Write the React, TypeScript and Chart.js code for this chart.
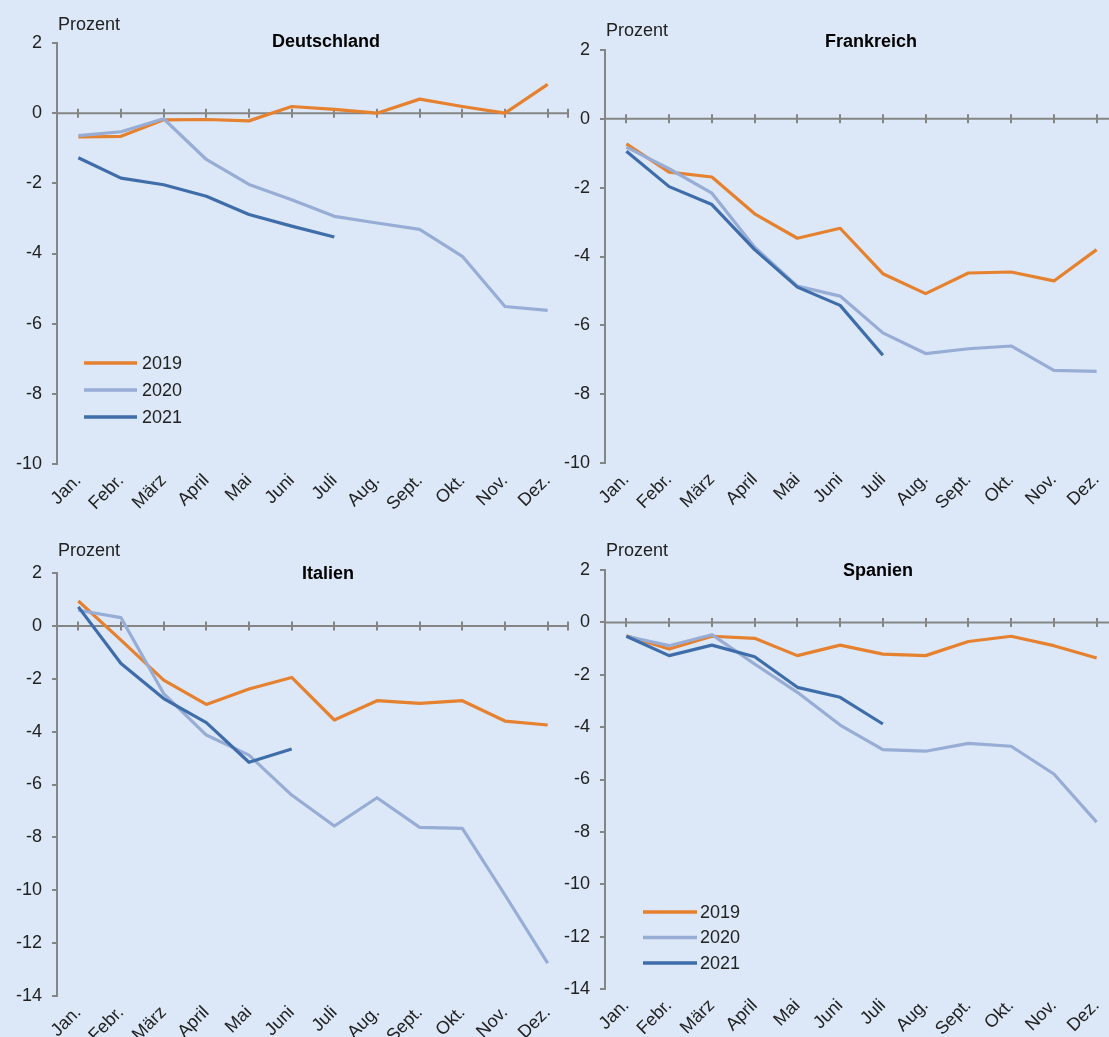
import React, { useEffect, useRef } from 'react';
import { Chart, registerables } from 'chart.js';

Chart.register(...registerables);

// ---------- data ----------
const months = ['Jan.', 'Febr.', 'März', 'April', 'Mai', 'Juni', 'Juli', 'Aug.', 'Sept.', 'Okt.', 'Nov.', 'Dez.'];
const seriesLabels = ['2019', '2020', '2021'];
const seriesColors = ['#E5812F', '#97ADD6', '#3E6DA9'];
const unitLabel = 'Prozent';

const deutschland2019 = [-0.68, -0.66, -0.19, -0.18, -0.22, 0.19, 0.11, 0.0, 0.4, 0.19, 0.0, 0.82];
const deutschland2020 = [-0.64, -0.53, -0.16, -1.32, -2.03, -2.47, -2.94, -3.13, -3.31, -4.08, -5.51, -5.62];
const deutschland2021 = [-1.27, -1.85, -2.04, -2.37, -2.89, -3.22, -3.53];

const frankreich2019 = [-0.73, -1.55, -1.69, -2.76, -3.47, -3.18, -4.5, -5.08, -4.48, -4.45, -4.71, -3.8];
const frankreich2020 = [-0.82, -1.45, -2.16, -3.73, -4.86, -5.15, -6.22, -6.82, -6.68, -6.6, -7.31, -7.34];
const frankreich2021 = [-0.94, -1.97, -2.49, -3.8, -4.89, -5.42, -6.87];

const italien2019 = [0.94, -0.54, -2.05, -2.97, -2.39, -1.95, -3.56, -2.83, -2.93, -2.83, -3.6, -3.75];
const italien2020 = [0.59, 0.31, -2.56, -4.13, -4.89, -6.4, -7.57, -6.5, -7.62, -7.66, -10.18, -12.76];
const italien2021 = [0.72, -1.42, -2.75, -3.66, -5.16, -4.66];

const spanien2019 = [-0.51, -1.02, -0.53, -0.61, -1.27, -0.87, -1.21, -1.27, -0.73, -0.53, -0.89, -1.36];
const spanien2020 = [-0.53, -0.89, -0.47, -1.59, -2.67, -3.92, -4.86, -4.92, -4.62, -4.73, -5.79, -7.63];
const spanien2021 = [-0.53, -1.27, -0.87, -1.31, -2.48, -2.86, -3.88];

const titles = ['Deutschland', 'Frankreich', 'Italien', 'Spanien'];
const yRangeTop = [2, 10]; // min... kept as [max, -min] per row
const yMinTopRow = -10;
const yMinBottomRow = -14;
const yMax = 2;
const yStep = 2;

// ---------- style ----------
const FONT = "'Liberation Sans', Arial, Helvetica, sans-serif";
const BG = '#DCE8F7';
const AXIS = '#858585';
const TEXT = '#222222';

type PanelLayout = {
  left: number; top: number; width: number; height: number;
  areaLeft: number; areaTop: number; areaRight: number; areaBottom: number;
  unitX: number; unitY: number; titleX: number; titleY: number;
  legend?: { x0: number; x1: number; tx: number; y0: number; dy: number };
};

const layouts: PanelLayout[] = [
  { left: 0, top: 0, width: 590, height: 520, areaLeft: 57, areaTop: 43, areaRight: 569, areaBottom: 464,
    unitX: 58, unitY: 25, titleX: 326, titleY: 42,
    legend: { x0: 84, x1: 137, tx: 142, y0: 363, dy: 27 } },
  { left: 550, top: 0, width: 580, height: 520, areaLeft: 55, areaTop: 50, areaRight: 568, areaBottom: 463,
    unitX: 56, unitY: 31, titleX: 321, titleY: 42 },
  { left: 0, top: 525, width: 590, height: 512, areaLeft: 57, areaTop: 48, areaRight: 569, areaBottom: 471,
    unitX: 58, unitY: 26, titleX: 328, titleY: 49 },
  { left: 550, top: 525, width: 580, height: 512, areaLeft: 55, areaTop: 45, areaRight: 568, areaBottom: 464,
    unitX: 56, unitY: 26, titleX: 328, titleY: 46,
    legend: { x0: 93, x1: 147, tx: 150, y0: 387, dy: 25.5 } },
];

const panelData = [
  [deutschland2019, deutschland2020, deutschland2021],
  [frankreich2019, frankreich2020, frankreich2021],
  [italien2019, italien2020, italien2021],
  [spanien2019, spanien2020, spanien2021],
];
const panelYMin = [yMinTopRow, yMinTopRow, yMinBottomRow, yMinBottomRow];

// ---------- plugins ----------
const zeroAxisPlugin = {
  id: 'zeroAxis',
  beforeDatasetsDraw(chart: any) {
    const { ctx, chartArea, scales } = chart;
    const y = scales.y.getPixelForValue(0);
    ctx.save();
    ctx.strokeStyle = AXIS;
    ctx.lineWidth = 2;
    ctx.beginPath();
    ctx.moveTo(chartArea.left, y);
    ctx.lineTo(chartArea.right, y);
    const n = chart.data.labels.length;
    for (let i = 0; i < n; i++) {
      const x = Math.round(scales.x.getPixelForValue(i));
      ctx.moveTo(x, y - 4.5);
      ctx.lineTo(x, y + 4.5);
    }
    ctx.moveTo(chartArea.right - 1, y - 4.5);
    ctx.lineTo(chartArea.right - 1, y + 4.5);
    ctx.stroke();
    ctx.restore();
  },
};

const panelTextPlugin = {
  id: 'panelText',
  afterDraw(chart: any, _args: any, opts: any) {
    const ctx = chart.ctx;
    ctx.save();
    ctx.textBaseline = 'middle';
    ctx.textAlign = 'left';
    ctx.fillStyle = TEXT;
    ctx.font = `18px ${FONT}`;
    ctx.fillText(opts.unit, opts.unitX, opts.unitY);
    ctx.font = `bold 18px ${FONT}`;
    ctx.textAlign = 'center';
    ctx.fillStyle = '#000000';
    ctx.fillText(opts.title, opts.titleX, opts.titleY);
    if (opts.legend) {
      const lg = opts.legend;
      chart.data.datasets.forEach((ds: any, i: number) => {
        const y = lg.y0 + i * lg.dy;
        ctx.strokeStyle = ds.borderColor;
        ctx.lineWidth = 3.5;
        ctx.beginPath();
        ctx.moveTo(lg.x0, y);
        ctx.lineTo(lg.x1, y);
        ctx.stroke();
        ctx.fillStyle = TEXT;
        ctx.font = `18px ${FONT}`;
        ctx.textAlign = 'left';
        ctx.fillText(ds.label, lg.tx, y + 1);
      });
    }
    ctx.restore();
  },
};

function Panel({ idx }: { idx: number }) {
  const ref = useRef<HTMLCanvasElement>(null);
  const L = layouts[idx];
  useEffect(() => {
    if (!ref.current) return;
    const series = panelData[idx];
    const chart = new Chart(ref.current, {
      type: 'line',
      data: {
        labels: months,
        datasets: series.map((vals, i) => ({
          label: seriesLabels[i],
          data: vals,
          borderColor: seriesColors[i],
          backgroundColor: seriesColors[i],
          borderWidth: 3.2,
          pointRadius: 0,
          pointHoverRadius: 0,
          tension: 0,
          fill: false,
          borderJoinStyle: 'round' as const,
          order: 3 - i,
        })),
      },
      options: {
        responsive: false,
        animation: false,
        events: [],
        layout: {
          padding: { left: 0, top: L.areaTop, right: L.width - L.areaRight, bottom: 0 },
        },
        plugins: {
          legend: { display: false },
          tooltip: { enabled: false },
          title: { display: false },
          panelText: {
            unit: unitLabel,
            unitX: L.unitX, unitY: L.unitY,
            title: titles[idx], titleX: L.titleX, titleY: L.titleY,
            legend: L.legend,
          },
        } as any,
        scales: {
          x: {
            type: 'category',
            offset: true,
            grid: { display: false, drawTicks: false },
            border: { display: false },
            ticks: {
              color: TEXT,
              font: { family: FONT, size: 18 },
              minRotation: 45,
              maxRotation: 45,
              autoSkip: false,
              padding: 6,
            },
            afterFit: (scale: any) => { scale.height = L.height - L.areaBottom; },
          },
          y: {
            min: panelYMin[idx],
            max: yMax,
            ticks: {
              stepSize: yStep,
              color: TEXT,
              font: { family: FONT, size: 18 },
              padding: 10,
              callback: (v: any) => String(v),
            },
            grid: { display: true, drawOnChartArea: false, drawTicks: true, tickLength: 5, color: AXIS, lineWidth: 2 },
            border: { display: true, color: AXIS, width: 2 },
            afterFit: (scale: any) => { scale.width = L.areaLeft; },
          },
        },
      },
      plugins: [zeroAxisPlugin, panelTextPlugin],
    });
    return () => chart.destroy();
  }, [idx]);
  return (
    <canvas
      ref={ref}
      width={L.width}
      height={L.height}
      style={{ position: 'absolute', left: L.left, top: L.top, width: L.width, height: L.height, display: 'block' }}
    />
  );
}

export default function App() {
  return (
    <div
      style={{
        position: 'fixed', left: 0, top: 0, width: 1109, height: 1037,
        overflow: 'hidden', background: BG,
      }}
    >
      {[0, 1, 2, 3].map((i) => (
        <Panel key={i} idx={i} />
      ))}
    </div>
  );
}
